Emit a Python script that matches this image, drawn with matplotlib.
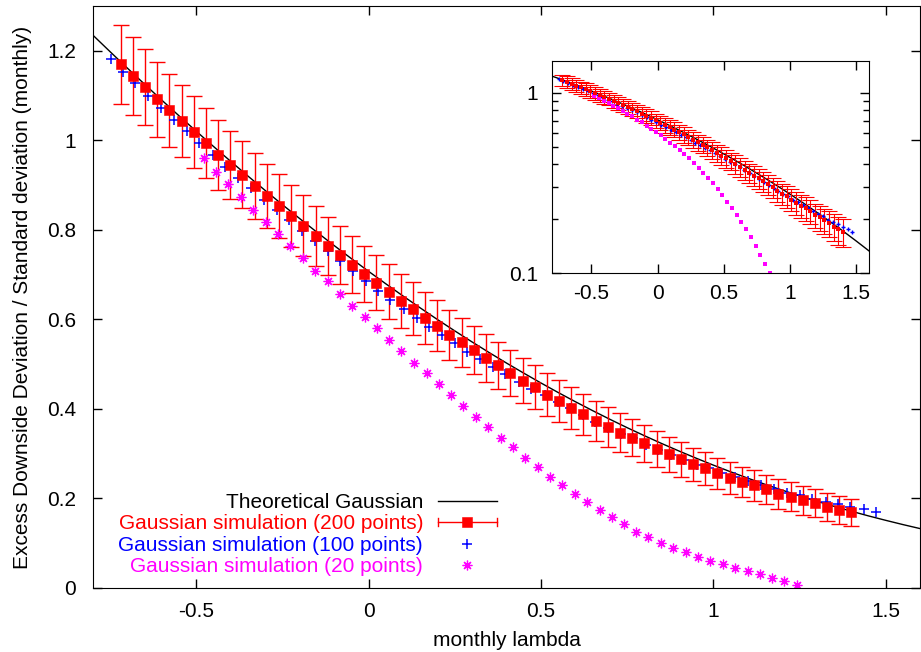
import numpy as np
import matplotlib
matplotlib.use("Agg")
import matplotlib.pyplot as plt
from matplotlib.ticker import FixedLocator, FormatStrFormatter, NullFormatter
from matplotlib.legend_handler import HandlerBase
from matplotlib.lines import Line2D
from matplotlib.container import ErrorbarContainer

plt.rcParams['font.family'] = ['Liberation Sans', 'DejaVu Sans']
plt.rcParams['font.size'] = 15
plt.rcParams['axes.unicode_minus'] = False

# theoretical Gaussian curve
lam_theory = [-0.80, -0.75, -0.70, -0.65, -0.60, -0.55, -0.50, -0.45, -0.40, -0.35,
              -0.30, -0.25, -0.20, -0.15, -0.10, -0.05, 0.00, 0.05, 0.10, 0.15,
              0.20, 0.25, 0.30, 0.35, 0.40, 0.45, 0.50, 0.55, 0.60, 0.65,
              0.70, 0.75, 0.80, 0.85, 0.90, 0.95, 1.00, 1.05, 1.10, 1.15,
              1.20, 1.25, 1.30, 1.35, 1.40, 1.45, 1.50, 1.55, 1.60]
edd_theory = [1.2346, 1.1976, 1.1610, 1.1250, 1.0894, 1.0544, 1.0200, 0.9860, 0.9527, 0.9199,
              0.8877, 0.8560, 0.8250, 0.7946, 0.7648, 0.7356, 0.7071, 0.6793, 0.6520, 0.6254,
              0.5994, 0.5742, 0.5496, 0.5257, 0.5024, 0.4799, 0.4579, 0.4366, 0.4160, 0.3961,
              0.3768, 0.3581, 0.3402, 0.3228, 0.3061, 0.2900, 0.2745, 0.2596, 0.2453, 0.2316,
              0.2185, 0.2060, 0.1939, 0.1825, 0.1716, 0.1611, 0.1512, 0.1417, 0.1327]

# simulation with 200 points
lam_200 = [-0.720, -0.685, -0.649, -0.614, -0.579, -0.543, -0.508, -0.473, -0.437, -0.402,
           -0.367, -0.331, -0.296, -0.260, -0.225, -0.190, -0.154, -0.119, -0.084, -0.048,
           -0.013, 0.022, 0.058, 0.093, 0.128, 0.164, 0.199, 0.234, 0.270, 0.305,
           0.341, 0.376, 0.411, 0.447, 0.482, 0.517, 0.553, 0.588, 0.623, 0.659,
           0.694, 0.730, 0.765, 0.800, 0.836, 0.871, 0.906, 0.942, 0.977, 1.012,
           1.048, 1.083, 1.119, 1.154, 1.189, 1.225, 1.260, 1.295, 1.331, 1.366,
           1.401]
edd_200 = [1.170, 1.143, 1.119, 1.092, 1.067, 1.043, 1.018, 0.994, 0.968, 0.945,
           0.923, 0.898, 0.875, 0.853, 0.831, 0.809, 0.786, 0.764, 0.744, 0.722,
           0.702, 0.682, 0.662, 0.641, 0.624, 0.604, 0.586, 0.566, 0.549, 0.531,
           0.514, 0.497, 0.480, 0.463, 0.448, 0.432, 0.418, 0.402, 0.388, 0.373,
           0.360, 0.347, 0.336, 0.323, 0.311, 0.299, 0.287, 0.276, 0.267, 0.256,
           0.246, 0.237, 0.229, 0.220, 0.210, 0.204, 0.196, 0.189, 0.181, 0.175,
           0.169]
err_200 = [0.088, 0.087, 0.085, 0.084, 0.082, 0.081, 0.080, 0.079, 0.078, 0.076,
           0.075, 0.074, 0.072, 0.071, 0.070, 0.068, 0.067, 0.065, 0.065, 0.064,
           0.063, 0.062, 0.061, 0.060, 0.059, 0.058, 0.057, 0.056, 0.055, 0.054,
           0.053, 0.052, 0.051, 0.050, 0.049, 0.048, 0.047, 0.047, 0.046, 0.045,
           0.044, 0.043, 0.042, 0.041, 0.040, 0.039, 0.038, 0.037, 0.036, 0.035,
           0.035, 0.034, 0.034, 0.033, 0.033, 0.032, 0.032, 0.031, 0.031, 0.031,
           0.030]

# simulation with 100 points
lam_100 = [-0.748, -0.713, -0.678, -0.640, -0.603, -0.564, -0.528, -0.491, -0.453, -0.416,
           -0.378, -0.341, -0.305, -0.267, -0.230, -0.193, -0.157, -0.119, -0.082, -0.046,
           -0.009, 0.028, 0.062, 0.102, 0.139, 0.175, 0.214, 0.250, 0.286, 0.324,
           0.361, 0.397, 0.435, 0.472, 0.511, 0.549, 0.584, 0.621, 0.656, 0.696,
           0.732, 0.768, 0.805, 0.841, 0.877, 0.914, 0.952, 0.989, 1.026, 1.064,
           1.101, 1.140, 1.175, 1.214, 1.251, 1.288, 1.326, 1.362, 1.398, 1.437,
           1.472]
edd_100 = [1.181, 1.153, 1.127, 1.099, 1.073, 1.046, 1.020, 0.993, 0.968, 0.941,
           0.915, 0.893, 0.867, 0.845, 0.822, 0.798, 0.776, 0.752, 0.730, 0.707,
           0.685, 0.664, 0.644, 0.623, 0.604, 0.584, 0.565, 0.547, 0.528, 0.511,
           0.494, 0.478, 0.461, 0.444, 0.430, 0.415, 0.401, 0.386, 0.371, 0.358,
           0.345, 0.334, 0.320, 0.308, 0.296, 0.285, 0.274, 0.267, 0.256, 0.247,
           0.239, 0.231, 0.222, 0.213, 0.207, 0.198, 0.192, 0.187, 0.181, 0.176,
           0.170]

# simulation with 20 points
lam_20 = [-0.479, -0.443, -0.407, -0.370, -0.335, -0.299, -0.263, -0.228, -0.191, -0.157,
          -0.119, -0.083, -0.048, -0.012, 0.024, 0.059, 0.095, 0.132, 0.168, 0.203,
          0.239, 0.274, 0.311, 0.347, 0.383, 0.419, 0.454, 0.490, 0.526, 0.562,
          0.598, 0.634, 0.670, 0.705, 0.741, 0.776, 0.812, 0.848, 0.883, 0.920,
          0.957, 0.992, 1.029, 1.064, 1.100, 1.136, 1.171, 1.206, 1.244]
edd_20 = [0.961, 0.930, 0.903, 0.873, 0.845, 0.818, 0.791, 0.763, 0.737, 0.709,
          0.685, 0.656, 0.629, 0.605, 0.580, 0.554, 0.529, 0.503, 0.480, 0.456,
          0.432, 0.406, 0.382, 0.359, 0.336, 0.314, 0.291, 0.270, 0.249, 0.229,
          0.210, 0.192, 0.175, 0.159, 0.142, 0.126, 0.113, 0.100, 0.090, 0.080,
          0.070, 0.061, 0.054, 0.045, 0.038, 0.031, 0.022, 0.015, 0.007]

labels = ["Theoretical Gaussian", "Gaussian simulation (200 points)",
          "Gaussian simulation (100 points)", "Gaussian simulation (20 points)"]


class HErrHandler(HandlerBase):
    # gnuplot-like legend sample: horizontal bar with caps and a square
    def create_artists(self, legend, orig_handle, xdescent, ydescent,
                       width, height, fontsize, trans):
        y = height / 2 - ydescent
        x0, x1 = -xdescent, width - xdescent
        c = 3.0
        arts = [Line2D([x0, x1], [y, y], color='red', lw=1.0),
                Line2D([x0, x0], [y - c, y + c], color='red', lw=1.0),
                Line2D([x1, x1], [y - c, y + c], color='red', lw=1.0),
                Line2D([(x0 + x1) / 2], [y], marker='s', ms=6.5, mew=0.4,
                       color='red', ls='')]
        for a in arts:
            a.set_transform(trans)
        return arts


fig = plt.figure(figsize=(9.21, 6.52), dpi=100)
ax = fig.add_axes([0.101, 0.0982, 0.8979, 0.8926])

ln_th, = ax.plot(lam_theory, edd_theory, color='black', lw=1.0)
eb = ax.errorbar(lam_200, edd_200, yerr=err_200, fmt='s', color='red', ms=6.5,
                 elinewidth=1.0, capsize=6, capthick=1.0)
eb[0].set_markeredgewidth(0.4)
ln_100, = ax.plot(lam_100, edd_100, ls='', marker='+', color='blue', ms=6.5, mew=1.1)
ln_20, = ax.plot(lam_20, edd_20, ls='', marker=(8, 2, 0), color='magenta', ms=7, mew=0.9)

ax.set_xlim(-0.8, 1.6)
ax.set_ylim(0, 1.3)
ax.xaxis.set_major_locator(FixedLocator([-0.5, 0, 0.5, 1, 1.5]))
ax.yaxis.set_major_locator(FixedLocator([0, 0.2, 0.4, 0.6, 0.8, 1, 1.2]))
ax.xaxis.set_major_formatter(FormatStrFormatter('%g'))
ax.yaxis.set_major_formatter(FormatStrFormatter('%g'))
ax.tick_params(direction='in', top=True, right=True, length=6.5, width=1.0)
ax.tick_params(axis='x', pad=10)
ax.tick_params(axis='y', pad=12)
ax.set_xlabel("monthly lambda", labelpad=7)
ax.set_ylabel("Excess Downside Deviation / Standard deviation (monthly)", labelpad=11)

leg = ax.legend([ln_th, eb, ln_100, ln_20], labels, loc='lower right',
                bbox_to_anchor=(0.4885, 0.02), frameon=False, markerfirst=False,
                handlelength=2.85, handletextpad=0.7, labelspacing=0.12,
                borderpad=0, borderaxespad=0, numpoints=1,
                labelcolor=['black', 'red', 'blue', 'magenta'],
                handler_map={ErrorbarContainer: HErrHandler()})

# inset with log scale
ins = fig.add_axes([0.599, 0.5808, 0.3448, 0.3261])
ins.plot(lam_theory, edd_theory, color='black', lw=1.0)
eb_in = ins.errorbar(lam_200, edd_200, yerr=err_200, fmt='s', color='red', ms=3,
                     elinewidth=0.8, capsize=5.5, capthick=0.8)
eb_in[0].set_markeredgewidth(0)
ins.plot(lam_100, edd_100, ls='', marker='+', color='blue', ms=3.5, mew=1.0)
ins.plot(lam_20, edd_20, ls='', marker='s', color='magenta', ms=2.6, mew=0)
ins.set_yscale('log')
ins.set_xlim(-0.8, 1.6)
ins.set_ylim(0.1, 1.5)
ins.xaxis.set_major_locator(FixedLocator([-0.5, 0, 0.5, 1, 1.5]))
ins.xaxis.set_major_formatter(FormatStrFormatter('%g'))
ins.yaxis.set_major_locator(FixedLocator([0.1, 1]))
ins.yaxis.set_major_formatter(FormatStrFormatter('%g'))
ins.yaxis.set_minor_locator(FixedLocator([0.2, 0.3, 0.4, 0.5, 0.6, 0.7, 0.8, 0.9]))
ins.yaxis.set_minor_formatter(NullFormatter())
ins.tick_params(which='both', direction='in', top=True, right=True, width=1.0)
ins.tick_params(which='major', length=6.5)
ins.tick_params(which='minor', length=4.5)
ins.tick_params(axis='x', pad=8)
ins.tick_params(axis='y', pad=10)

plt.savefig("out.png", dpi=100)
